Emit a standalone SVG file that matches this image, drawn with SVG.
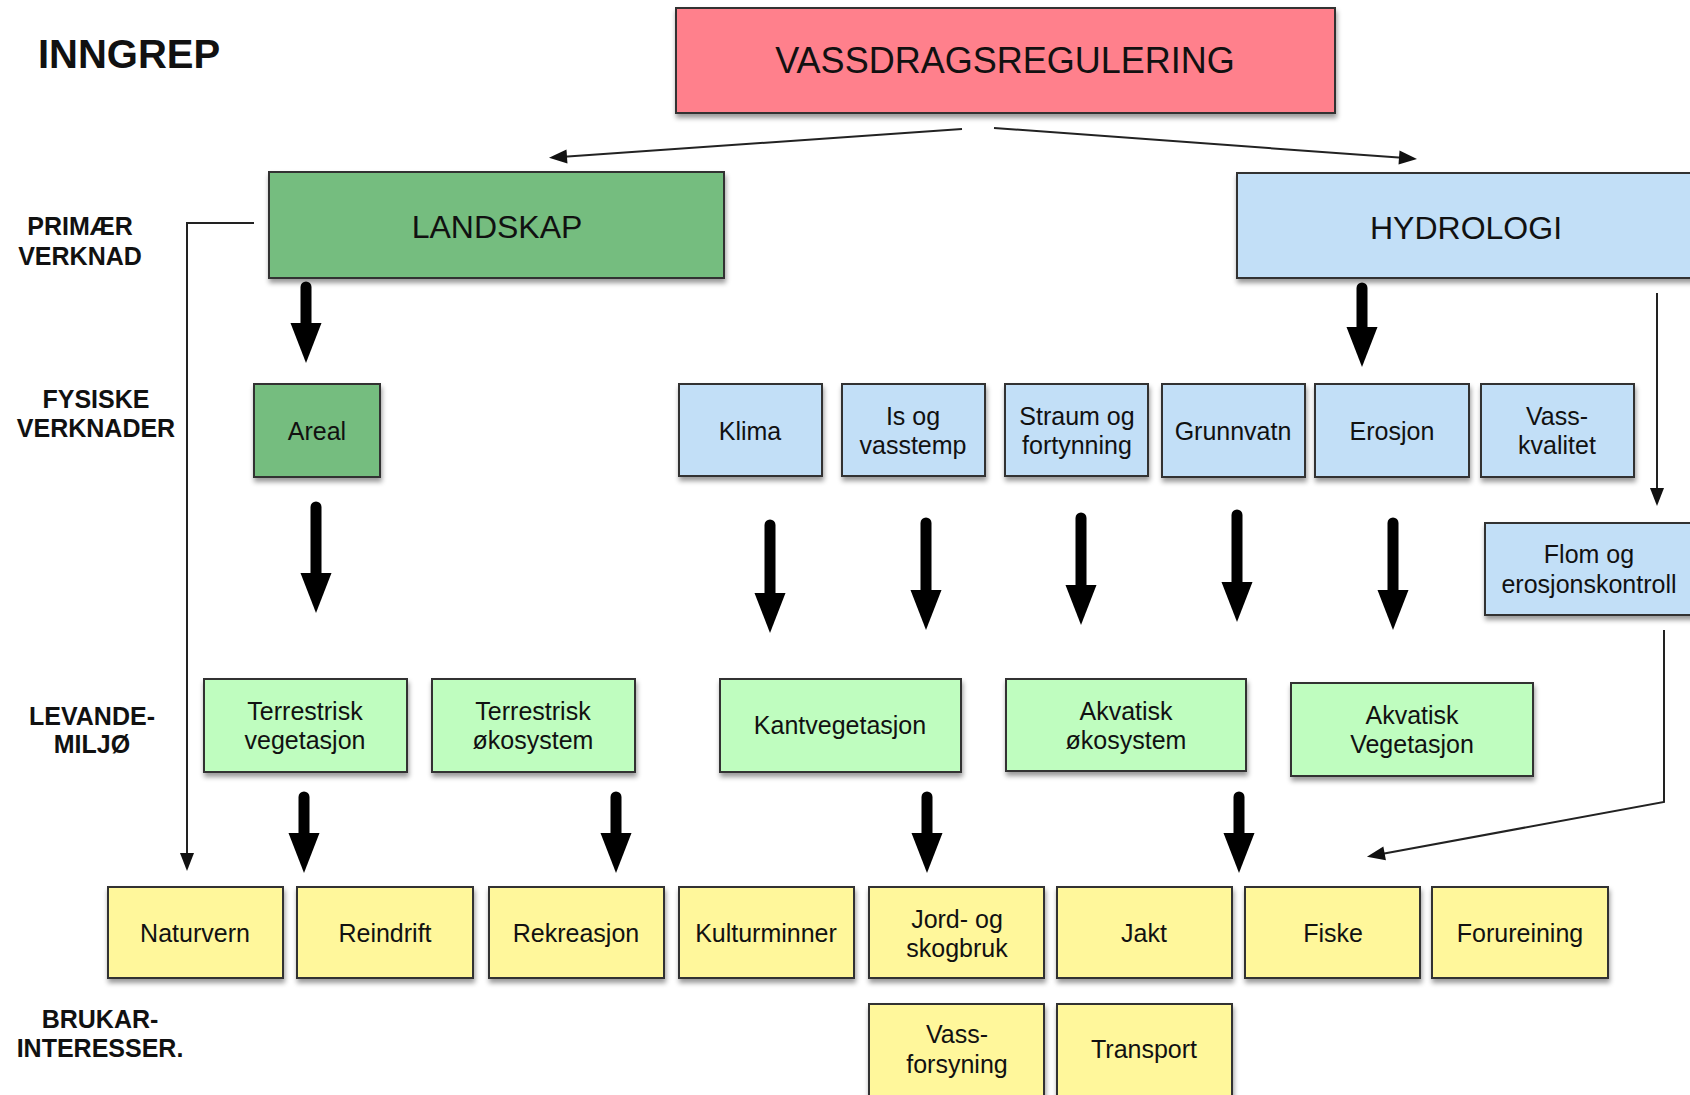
<svg xmlns="http://www.w3.org/2000/svg" width="1690" height="1095" viewBox="0 0 1690 1095">
<defs>
<filter id="sh" x="-10%" y="-10%" width="120%" height="130%">
<feDropShadow dx="1" dy="4" stdDeviation="2.5" flood-color="#000" flood-opacity="0.4"/>
</filter>
<marker id="thick" markerUnits="userSpaceOnUse" markerWidth="40" markerHeight="31" refX="20" refY="15.5" orient="auto" overflow="visible">
<path d="M0,0 L40,15.5 L0,31 Z" fill="#000"/>
</marker>
<marker id="thin" markerUnits="userSpaceOnUse" markerWidth="18" markerHeight="14" refX="10" refY="7" orient="auto" overflow="visible">
<path d="M0,0 L18,7 L0,14 Z" fill="#111"/>
</marker>
<style>
.box{stroke:#333;stroke-width:2;filter:url(#sh)}
.pink{fill:#FF808C}
.green{fill:#74BD7F}
.blue{fill:#C2DFF7}
.lgreen{fill:#BFFDBF}
.yellow{fill:#FFF79B}
text{font-family:"Liberation Sans",Arial,sans-serif;fill:#111;text-anchor:middle}
.t{font-size:25px}
.big{font-size:32px}
.lab{font-size:25px;font-weight:bold}
.ta{fill:none;stroke:#000;stroke-width:11;stroke-linecap:round;marker-end:url(#thick)}
.tn{fill:none;stroke:#222;stroke-width:2;marker-end:url(#thin)}
</style>
</defs>
<rect width="1690" height="1095" fill="#fff"/>

<g id="labels">
<text x="129" y="68" style="font-size:40px;font-weight:bold">INNGREP</text>
<text class="lab" x="80" y="235">PRIMÆR</text>
<text class="lab" x="80" y="265">VERKNAD</text>
<text class="lab" x="96" y="408">FYSISKE</text>
<text class="lab" x="96" y="437">VERKNADER</text>
<text class="lab" x="92" y="725">LEVANDE-</text>
<text class="lab" x="92" y="753">MILJØ</text>
<text class="lab" x="100" y="1028">BRUKAR-</text>
<text class="lab" x="100" y="1057">INTERESSER.</text>
</g>

<g id="connectors">
<line class="tn" x1="962" y1="129" x2="557" y2="157.3"/>
<line class="tn" x1="994" y1="128" x2="1409" y2="158.3"/>
<polyline class="tn" points="254,223 187,223 187,863"/>
<line class="tn" x1="1657" y1="293" x2="1657" y2="498"/>
<polyline class="tn" points="1664,630 1664,802 1374.8,855.2"/>
<line class="ta" x1="306" y1="287" x2="306" y2="343"/>
<line class="ta" x1="316" y1="507" x2="316" y2="593"/>
<line class="ta" x1="1362" y1="288" x2="1362" y2="347"/>
<line class="ta" x1="770" y1="525" x2="770" y2="613"/>
<line class="ta" x1="926" y1="523" x2="926" y2="610"/>
<line class="ta" x1="1081" y1="518" x2="1081" y2="605"/>
<line class="ta" x1="1237" y1="515" x2="1237" y2="602"/>
<line class="ta" x1="1393" y1="523" x2="1393" y2="610"/>
<line class="ta" x1="304" y1="797" x2="304" y2="853"/>
<line class="ta" x1="616" y1="797" x2="616" y2="853"/>
<line class="ta" x1="927" y1="797" x2="927" y2="853"/>
<line class="ta" x1="1239" y1="797" x2="1239" y2="853"/>
</g>

<g id="vassdragsregulering"><rect class="box pink" x="676" y="8" width="659" height="105"/><text x="1005" y="73" style="font-size:36px">VASSDRAGSREGULERING</text></g>
<g id="landskap"><rect class="box green" x="269" y="172" width="455" height="106"/><text class="big" x="497" y="238">LANDSKAP</text></g>
<g id="hydrologi"><rect class="box blue" x="1237" y="173" width="480" height="105"/><text class="big" x="1466" y="239">HYDROLOGI</text></g>

<g id="areal"><rect class="box green" x="254" y="384" width="126" height="93"/><text class="t" x="317" y="440">Areal</text></g>
<g id="klima"><rect class="box blue" x="679" y="384" width="143" height="92"/><text class="t" x="750" y="440">Klima</text></g>
<g id="isog"><rect class="box blue" x="842" y="384" width="143" height="92"/><text class="t" x="913" y="425">Is og</text><text class="t" x="913" y="454">vasstemp</text></g>
<g id="straum"><rect class="box blue" x="1005" y="384" width="143" height="92"/><text class="t" x="1077" y="425">Straum og</text><text class="t" x="1077" y="454">fortynning</text></g>
<g id="grunnvatn"><rect class="box blue" x="1162" y="384" width="143" height="93"/><text class="t" x="1233" y="440">Grunnvatn</text></g>
<g id="erosjon"><rect class="box blue" x="1315" y="384" width="154" height="93"/><text class="t" x="1392" y="440">Erosjon</text></g>
<g id="vasskvalitet"><rect class="box blue" x="1481" y="384" width="153" height="93"/><text class="t" x="1557" y="425">Vass-</text><text class="t" x="1557" y="454">kvalitet</text></g>
<g id="flom"><rect class="box blue" x="1485" y="523" width="230" height="92"/><text class="t" x="1589" y="563">Flom og</text><text class="t" x="1589" y="593">erosjonskontroll</text></g>

<g id="terrveg"><rect class="box lgreen" x="204" y="679" width="203" height="93"/><text class="t" x="305" y="720">Terrestrisk</text><text class="t" x="305" y="749">vegetasjon</text></g>
<g id="terroko"><rect class="box lgreen" x="432" y="679" width="203" height="93"/><text class="t" x="533" y="720">Terrestrisk</text><text class="t" x="533" y="749">økosystem</text></g>
<g id="kantveg"><rect class="box lgreen" x="720" y="679" width="241" height="93"/><text class="t" x="840" y="734">Kantvegetasjon</text></g>
<g id="akvoko"><rect class="box lgreen" x="1006" y="679" width="240" height="92"/><text class="t" x="1126" y="720">Akvatisk</text><text class="t" x="1126" y="749">økosystem</text></g>
<g id="akvveg"><rect class="box lgreen" x="1291" y="683" width="242" height="93"/><text class="t" x="1412" y="724">Akvatisk</text><text class="t" x="1412" y="753">Vegetasjon</text></g>

<g id="naturvern"><rect class="box yellow" x="108" y="887" width="175" height="91"/><text class="t" x="195" y="942">Naturvern</text></g>
<g id="reindrift"><rect class="box yellow" x="297" y="887" width="176" height="91"/><text class="t" x="385" y="942">Reindrift</text></g>
<g id="rekreasjon"><rect class="box yellow" x="489" y="887" width="175" height="91"/><text class="t" x="576" y="942">Rekreasjon</text></g>
<g id="kulturminner"><rect class="box yellow" x="679" y="887" width="175" height="91"/><text class="t" x="766" y="942">Kulturminner</text></g>
<g id="jordskog"><rect class="box yellow" x="869" y="887" width="175" height="91"/><text class="t" x="957" y="928">Jord- og</text><text class="t" x="957" y="957">skogbruk</text></g>
<g id="jakt"><rect class="box yellow" x="1057" y="887" width="175" height="91"/><text class="t" x="1144" y="942">Jakt</text></g>
<g id="fiske"><rect class="box yellow" x="1245" y="887" width="175" height="91"/><text class="t" x="1333" y="942">Fiske</text></g>
<g id="forureining"><rect class="box yellow" x="1432" y="887" width="176" height="91"/><text class="t" x="1520" y="942">Forureining</text></g>
<g id="vassforsyning"><rect class="box yellow" x="869" y="1004" width="175" height="100"/><text class="t" x="957" y="1043">Vass-</text><text class="t" x="957" y="1073">forsyning</text></g>
<g id="transport"><rect class="box yellow" x="1057" y="1004" width="175" height="100"/><text class="t" x="1144" y="1058">Transport</text></g>
</svg>
